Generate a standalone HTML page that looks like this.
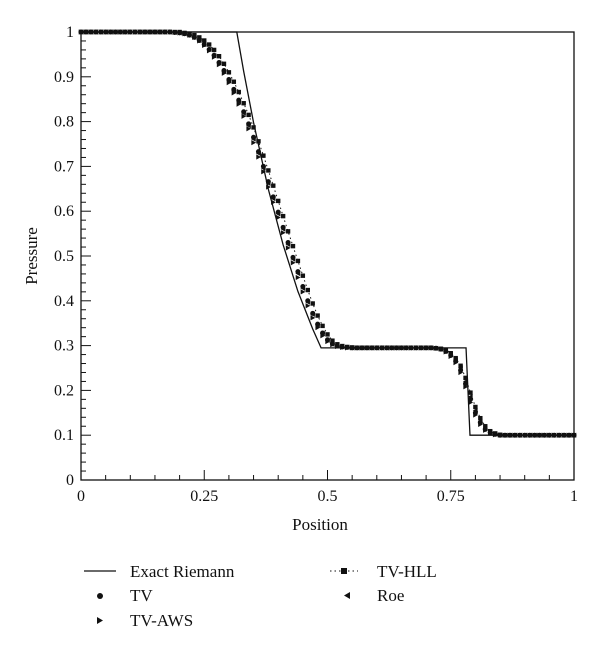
<!DOCTYPE html>
<html><head><meta charset="utf-8"><style>
html,body{margin:0;padding:0;background:#fff;}
svg text{font-family:"Liberation Serif",serif;fill:#111;}
</style></head><body>
<svg id="chart" width="600" height="654" viewBox="0 0 600 654" xmlns="http://www.w3.org/2000/svg">
<g id="grid"></g>
<g id="series"></g>
<text x="320" y="530" font-size="17" text-anchor="middle">Position</text>
<text x="0" y="0" font-size="17" text-anchor="middle" transform="translate(37,256) rotate(-90)">Pressure</text>
<g>
 <g><line x1="84" y1="571" x2="116" y2="571" stroke="#111" stroke-width="1.3"/><text x="130" y="577" font-size="17">Exact Riemann</text></g>
 <g><circle cx="100" cy="596" r="3" fill="#111"/><text x="130" y="601" font-size="17">TV</text></g>
 <g><path d="M97,617 L103,620.5 L97,624Z" fill="#111"/><text x="130" y="626" font-size="17">TV-AWS</text></g>
 <g><line x1="330" y1="571" x2="358" y2="571" stroke="#111" stroke-width="1" stroke-dasharray="1.5,3"/><rect x="341" y="568" width="6" height="6" fill="#111"/><text x="377" y="577" font-size="17">TV-HLL</text></g>
 <g><path d="M350,592 L344,595.5 L350,599Z" fill="#111"/><text x="377" y="601" font-size="17">Roe</text></g>
</g>
</svg>
<script>
const xTicks=[0,0.25,0.5,0.75,1];
const xTickLabels=["0","0.25","0.5","0.75","1"];
const yTicks=[0,0.1,0.2,0.3,0.4,0.5,0.6,0.7,0.8,0.9,1];
const yTickLabels=["0","0.1","0.2","0.3","0.4","0.5","0.6","0.7","0.8","0.9","1"];
const exactX=[0,0.316,0.33,0.35,0.38,0.41,0.44,0.47,0.487,0.781,0.789,1];
const exactP=[1,1,0.912,0.798,0.649,0.525,0.421,0.337,0.295,0.295,0.1,0.1];
const tv=[1,1,1,1,1,1,1,1,1,1, 1,1,1,1,1,1,1,1,1,0.999,
0.998,0.996,0.993,0.988,0.981,0.972,0.961,0.948,0.932,0.914,
0.894,0.872,0.848,0.822,0.795,0.765,0.733,0.7,0.666,0.632,
0.598,0.564,0.53,0.497,0.465,0.432,0.4,0.372,0.348,0.328,
0.313,0.304,0.299,0.297,0.296,0.295,0.295,0.295,0.295,0.295,
0.295,0.295,0.295,0.295,0.295,0.295,0.295,0.295,0.295,0.295,
0.295,0.295,0.294,0.292,0.287,0.278,0.265,0.245,0.215,0.18,
0.15,0.128,0.113,0.106,0.102,0.1,0.1,0.1,0.1,0.1,
0.1,0.1,0.1,0.1,0.1,0.1,0.1,0.1,0.1,0.1,0.1];
const tvAws=[1,1,1,1,1,1,1,1,1,1, 1,1,1,1,1,1,1,1,1,0.999,
0.998,0.996,0.993,0.988,0.98,0.97,0.958,0.944,0.927,0.908,
0.887,0.864,0.839,0.812,0.784,0.753,0.721,0.688,0.654,0.62,
0.586,0.552,0.518,0.485,0.452,0.42,0.389,0.362,0.34,0.322,
0.309,0.302,0.298,0.296,0.295,0.295,0.295,0.295,0.295,0.295,
0.295,0.295,0.295,0.295,0.295,0.295,0.295,0.295,0.295,0.295,
0.295,0.295,0.294,0.292,0.286,0.276,0.262,0.24,0.208,0.173,
0.145,0.124,0.111,0.105,0.101,0.1,0.1,0.1,0.1,0.1,
0.1,0.1,0.1,0.1,0.1,0.1,0.1,0.1,0.1,0.1,0.1];
const tvHll=[1,1,1,1,1,1,1,1,1,1, 1,1,1,1,1,1,1,1,1,1,
1,0.998,0.996,0.993,0.988,0.981,0.972,0.96,0.946,0.929,
0.91,0.889,0.866,0.841,0.815,0.787,0.756,0.724,0.691,0.657,
0.623,0.589,0.555,0.522,0.489,0.456,0.424,0.394,0.367,0.344,
0.325,0.311,0.303,0.299,0.297,0.296,0.295,0.295,0.295,0.295,
0.295,0.295,0.295,0.295,0.295,0.295,0.295,0.295,0.295,0.295,
0.295,0.295,0.294,0.293,0.29,0.283,0.272,0.255,0.228,0.195,
0.163,0.138,0.12,0.109,0.104,0.101,0.1,0.1,0.1,0.1,
0.1,0.1,0.1,0.1,0.1,0.1,0.1,0.1,0.1,0.1,0.1];
const roe=[1,1,1,1,1,1,1,1,1,1, 1,1,1,1,1,1,1,1,1,0.999,
0.998,0.996,0.993,0.988,0.981,0.972,0.961,0.947,0.931,0.912,
0.891,0.869,0.845,0.819,0.791,0.761,0.729,0.696,0.662,0.628,
0.594,0.56,0.526,0.493,0.461,0.428,0.397,0.37,0.346,0.327,
0.312,0.303,0.299,0.297,0.296,0.295,0.295,0.295,0.295,0.295,
0.295,0.295,0.295,0.295,0.295,0.295,0.295,0.295,0.295,0.295,
0.295,0.295,0.294,0.292,0.288,0.28,0.268,0.25,0.22,0.186,
0.155,0.131,0.115,0.107,0.103,0.1,0.1,0.1,0.1,0.1,
0.1,0.1,0.1,0.1,0.1,0.1,0.1,0.1,0.1,0.1,0.1];

const NS="http://www.w3.org/2000/svg";
const X0=81,X1=574,Y0=480,Y1=32;
function sx(v){return X0+(X1-X0)*v;}
function sy(v){return Y0-(Y0-Y1)*v;}
function mk(tag,attrs,parent){const e=document.createElementNS(NS,tag);for(const k in attrs)e.setAttribute(k,attrs[k]);parent.appendChild(e);return e;}
const grid=document.getElementById('grid');
const frame=mk('rect',{x:X0,y:Y1,width:X1-X0,height:Y0-Y1,fill:'none',stroke:'#111','stroke-width':1.3},grid);


for(let i=0;i<=20;i++){const v=i/20;const maj=i%5===0;
 const t=mk('line',{x1:sx(v),x2:sx(v),y1:Y0,y2:Y0-(maj?10:5),stroke:'#111','stroke-width':1},grid);
 
 }
for(let i=0;i<=50;i++){const v=i/50;const maj=i%5===0;
 const t=mk('line',{x1:X0,x2:X0+(maj?10:5),y1:sy(v),y2:sy(v),stroke:'#111','stroke-width':1},grid);
 
 }
xTicks.forEach((v,i)=>{const t=mk('text',{x:sx(v),y:Y0+21,'font-size':16,'text-anchor':'middle'},grid);t.textContent=xTickLabels[i];
 
 });
yTicks.forEach((v,i)=>{const t=mk('text',{x:X0-7,y:sy(v)+5,'font-size':16,'text-anchor':'end'},grid);t.textContent=yTickLabels[i];
 
 });
const S=document.getElementById('series');
const ex=mk('polyline',{points:exactX.map((x,i)=>sx(x)+','+sy(exactP[i])).join(' '),fill:'none',stroke:'#111','stroke-width':1.3},S);


const hl=mk('polyline',{points:tvHll.map((p,i)=>sx(i/100)+','+sy(p)).join(' '),fill:'none',stroke:'#111','stroke-width':1,'stroke-dasharray':'1.5,3'},S);


tvHll.forEach((p,i)=>{const e=mk('rect',{x:sx(i/100)-2.2,y:sy(p)-2.2,width:4.4,height:4.4,fill:'#111'},S);
 
 });
tv.forEach((p,i)=>{const e=mk('circle',{cx:sx(i/100),cy:sy(p),r:2.5,fill:'#111'},S);
 
 });
tvAws.forEach((p,i)=>{const x=sx(i/100),y=sy(p);const e=mk('path',{d:`M${x-2.2},${y-2.6} L${x+2.6},${y} L${x-2.2},${y+2.6}Z`,fill:'#111'},S);
 
 });
roe.forEach((p,i)=>{const x=sx(i/100),y=sy(p);const e=mk('path',{d:`M${x+2.2},${y-2.6} L${x-2.6},${y} L${x+2.2},${y+2.6}Z`,fill:'#111'},S);
 
 });
</script>
</body></html>
